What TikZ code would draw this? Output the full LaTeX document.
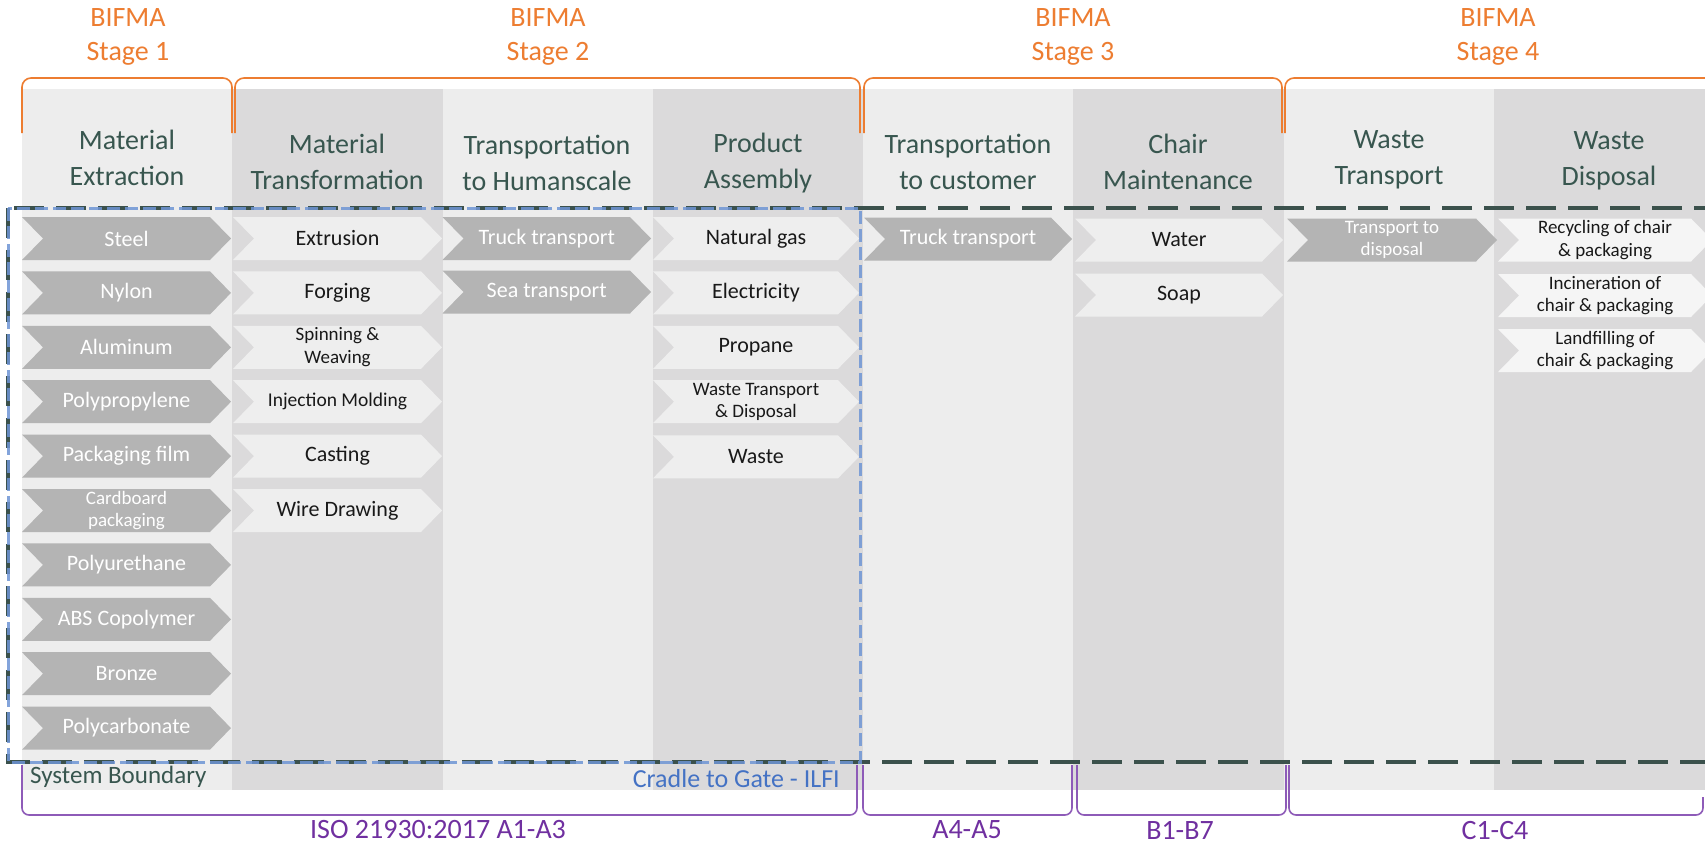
\documentclass[tikz,border=0pt]{standalone}
\usepackage{fontspec}
\setmainfont{Carlito}
\definecolor{colLight}{HTML}{EDEDED}
\definecolor{colDark}{HTML}{DBDADB}
\definecolor{chevDark}{HTML}{B4B4B4}
\definecolor{chevLight}{HTML}{EEEEEE}
\definecolor{chevWhite}{HTML}{F5F5F5}
\definecolor{hdrcol}{HTML}{38564F}
\definecolor{orng}{HTML}{ED7D31}
\definecolor{purp}{HTML}{7030A0}
\definecolor{purpline}{HTML}{8E5BB8}
\definecolor{gline}{HTML}{3B514C}
\definecolor{bline}{HTML}{6E95D5}
\definecolor{btext}{HTML}{4472C4}
\newcommand\chev[7][]{%
  \fill[#6fill] (#3,#5-21.5) -- (#4-21,#5-21.5) -- (#4,#5) -- (#4-21,#5+21.5) -- (#3,#5+21.5) -- (#3+21,#5) -- cycle;
  \node[#6txt,#1] (#2) at ({(#3+#4)/2},#5) {#7};}
\begin{document}
\begin{tikzpicture}[x=1pt,y=-1pt,
  dkfill/.style={fill=chevDark},
  ltfill/.style={fill=chevLight},
  wtfill/.style={fill=chevWhite},
  dktxt/.style={text=white,font=\fontsize{22}{23}\selectfont,align=center,inner sep=0pt},
  lttxt/.style={text=black!90,font=\fontsize{22}{23}\selectfont,align=center,inner sep=0pt},
  wttxt/.style={lttxt},
  hdr/.style={text=hdrcol,font=\fontsize{28}{36}\selectfont,align=center,inner sep=0pt},
  stg/.style={text=orng,font=\fontsize{28}{34}\selectfont,align=center,inner sep=0pt},
  obr/.style={draw=orng,line width=1.6pt,rounded corners=9pt},
  pbr/.style={draw=purpline,line width=1.6pt,rounded corners=7pt},
  plab/.style={text=purp,font=\fontsize{28}{30}\selectfont,inner sep=0pt},
  gdash/.style={draw=gline,line width=3.6pt,dash pattern=on 30pt off 12pt},
  bdash/.style={draw=bline,line width=3pt,dash pattern=on 13pt off 5pt,opacity=0.85},
  sm/.style={font=\fontsize{19}{22.5}\selectfont}]
\useasboundingbox (0,0) rectangle (1705,846);
\fill[white] (0,0) rectangle (1705,846);
% columns
\fill[colLight] (22,89) rectangle (232,790);
\fill[colDark] (232,89) rectangle (442.5,790);
\fill[colLight] (442.5,89) rectangle (653,790);
\fill[colDark] (653,89) rectangle (863,790);
\fill[colLight] (863,89) rectangle (1073,790);
\fill[colDark] (1073,89) rectangle (1283.5,790);
\fill[colLight] (1283.5,89) rectangle (1494,790);
\fill[colDark] (1494,89) rectangle (1705,790);
% stage labels
\node[stg] (s1) at (128,37) {BIFMA\\Stage 1};
\node[stg] (s2) at (548,37) {BIFMA\\Stage 2};
\node[stg] (s3) at (1073,37) {BIFMA\\Stage 3};
\node[stg] (s4) at (1498,37) {BIFMA\\Stage 4};
% orange brackets
\draw[obr] (22,133) -- (22,78) -- (232,78) -- (232,133);
\draw[obr] (235,133) -- (235,78) -- (860,78) -- (860,133);
\draw[obr] (864,133) -- (864,78) -- (1282,78) -- (1282,133);
\draw[obr] (1285,133) -- (1285,78) -- (1740,78);
% headers
\node[hdr] (h1) at (127,158) {Material\\Extraction};
\node[hdr] (h2) at (337,162) {Material\\Transformation};
\node[hdr] (h3) at (547,163) {Transportation\\to Humanscale};
\node[hdr] (h4) at (758,163) {Product\\Assembly};
\node[hdr] (h5) at (968,162) {Transportation\\to customer};
\node[hdr] (h6) at (1178,162) {Chair\\Maintenance};
\node[hdr] (h7) at (1389,160) {Waste\\Transport};
\node[hdr] (h8) at (1609,161) {Waste\\Disposal};
% column 1
\chev{c1a}{22}{231}{238.5}{dk}{Steel}
\chev{c1b}{22}{231}{292.9}{dk}{Nylon}
\chev{c1c}{22}{231}{347.3}{dk}{Aluminum}
\chev{c1d}{22}{231}{401.7}{dk}{Polypropylene}
\chev{c1e}{22}{231}{456.1}{dk}{Packaging film}
\chev[sm]{c1f}{22}{231}{510.5}{dk}{Cardboard\\packaging}
\chev{c1g}{22}{231}{564.9}{dk}{Polyurethane}
\chev{c1h}{22}{231}{619.3}{dk}{ABS Copolymer}
\chev{c1i}{22}{231}{673.7}{dk}{Bronze}
\chev{c1j}{22}{231}{728.1}{dk}{Polycarbonate}
% column 2
\chev{c2a}{233}{442}{238.5}{lt}{Extrusion}
\chev{c2b}{233}{442}{292.9}{lt}{Forging}
\chev[sm]{c2c}{233}{442}{347.3}{lt}{Spinning \&\\Weaving}
\chev[font=\fontsize{19.5}{22}\selectfont]{c2d}{233}{442}{401.7}{lt}{Injection Molding}
\chev{c2e}{233}{442}{456.1}{lt}{Casting}
\chev{c2f}{233}{442}{510.5}{lt}{Wire Drawing}
% column 3
\chev{c3a}{442.5}{651}{238.5}{dk}{Truck transport}
\chev{c3b}{442.5}{651}{292.0}{dk}{Sea transport}
% column 4
\chev{c4a}{653}{859}{238.5}{lt}{Natural gas}
\chev{c4b}{653}{859}{292.9}{lt}{Electricity}
\chev{c4c}{653}{859}{347.3}{lt}{Propane}
\chev[sm]{c4d}{653}{859}{401.7}{lt}{Waste Transport\\\& Disposal}
\chev{c4e}{653}{859}{456.8}{lt}{Waste}
% column 5
\chev{c5a}{864}{1072}{239}{dk}{Truck transport}
% column 6
\chev{c6a}{1075}{1283}{240}{lt}{Water}
\chev{c6b}{1075}{1283}{295}{lt}{Soap}
% column 7
\chev[sm]{c7a}{1287}{1497}{240}{dk}{Transport to\\disposal}
% column 8
\chev[sm]{c8a}{1498}{1712}{240}{wt}{Recycling of chair\\\& packaging}
\chev[sm]{c8b}{1498}{1712}{295.5}{wt}{Incineration of\\chair \& packaging}
\chev[sm]{c8c}{1498}{1712}{350.5}{wt}{Landfilling of\\chair \& packaging}
% boundaries
\draw[gdash] (8,208) rectangle (1740,762);
\draw[bdash] (8,208) rectangle (860,762);
\node[anchor=west,text=hdrcol,font=\fontsize{25}{27}\selectfont,inner sep=0pt] (sb) at (30,777) {System Boundary};
\node[anchor=east,text=btext,font=\fontsize{26}{28}\selectfont,inner sep=0pt] (cg) at (840,779) {Cradle to Gate - ILFI};
% purple brackets
\draw[pbr] (22,765) -- (22,815) -- (857,815) -- (857,765);
\draw[pbr] (863,765) -- (863,815) -- (1072,815) -- (1072,765);
\draw[pbr] (1077,765) -- (1077,815) -- (1286,815) -- (1286,765);
\draw[pbr] (1289,765) -- (1289,815) -- (1703,815) -- (1703,797);
\node[plab] (iso) at (438,830) {ISO 21930:2017 A1-A3};
\node[plab] (a45) at (967,830) {A4-A5};
\node[plab] (b17) at (1180,830) {B1-B7};
\node[plab] (c14) at (1495,830) {C1-C4};
\end{tikzpicture}
\end{document}
